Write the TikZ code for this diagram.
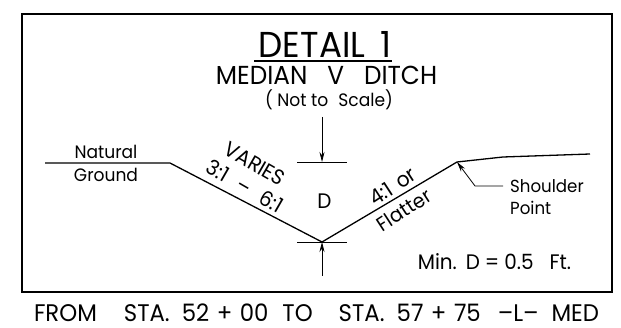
\documentclass[tikz,border=0pt]{standalone}
\usepackage{fontspec}
\setmainfont{Poppins}[FakeStretch=0.95]
\usetikzlibrary{arrows.meta}
\tikzset{
 ln/.style={line width=1.3pt,line join=round},
 thinln/.style={line width=0.8pt},
 arr/.style={thinln,-{Stealth[length=10pt,width=5pt]}},
 lab/.style={inner sep=0pt,font=\fontsize{#1}{#1}\selectfont},
}
\begin{document}
\begin{tikzpicture}[x=1pt,y=-1pt]
\useasboundingbox (0,0) rectangle (621,328);
\draw[line width=1.4pt] (22,14) rectangle (612,292);
\coordinate (a) at (45,163);
\coordinate (b) at (170,163);
\coordinate (c) at (322,242);
\coordinate (d) at (457,162);
\coordinate (e) at (503,157);
\coordinate (f) at (590,154);
\draw[ln] (a)--(b)--(c)--(d)--(e)--(f);
\coordinate (t1) at (297,162); \coordinate (t2) at (347,162);
\coordinate (b1) at (297,242); \coordinate (b2) at (347,242);
\draw[thinln] (t1)--(t2);
\draw[thinln] (b1)--(b2);
\coordinate (at) at (322,117); \coordinate (atE) at (322,162);
\coordinate (ab) at (322,276); \coordinate (abE) at (322,242);
\draw[arr] (at)--(atE);
\draw[arr] (ab)--(abE);
\node[lab=36] (title) at (325,44) {DETAIL\hspace{15pt}1};
\coordinate (u1) at (254,61); \coordinate (u2) at (392,61);
\draw[line width=1.4pt] (u1)--(u2);
\node[lab=26] (sub) at (326.5,75) {MEDIAN\hspace{20pt}V\hspace{20pt}DITCH};
\node[lab=18] (ns) at (329,100) {( Not to\hspace{10pt}Scale)};
\node[lab=18] (nat) at (106,152) {Natural};
\node[lab=18] (gr) at (106,175) {Ground};
\node[lab=21,rotate=-30] (var) at (255,164) {VARIES};
\node[lab=21,rotate=-30] (rat) at (245,186) {3:1\hspace{13pt}--\hspace{13pt}6:1};
\node[lab=21] (D) at (324.5,201) {D};
\node[lab=21,rotate=33] (r4) at (392.5,186.5) {4:1\hspace{8pt}or};
\node[lab=20,rotate=33] (fl) at (404,210) {Flatter};
\node[lab=17.5,anchor=west] (sh) at (510,186) {Shoulder};
\node[lab=17.5,anchor=west] (pt) at (510,208) {Point};
\node[lab=21] (min) at (494.5,262) {Min.\hspace{9pt}D\hspace{5pt}=\hspace{5pt}0.5\hspace{16pt}Ft.};
\node[lab=24] (from) at (316.5,313) {FROM\hspace{27pt}STA.\ \hspace{6pt}52\hspace{7.5pt}+\hspace{7.5pt}00\hspace{14pt}TO\hspace{26pt}STA.\ \hspace{6pt}57\hspace{7.5pt}+\hspace{7.5pt}75\hspace{17pt}--L--\hspace{13pt}MED};
\coordinate (l1) at (503,186); \coordinate (l2) at (475,186);
\draw[thinln,-{Stealth[length=10pt,width=5pt]}] (l1)--(l2)--(d);
\end{tikzpicture}
\end{document}
